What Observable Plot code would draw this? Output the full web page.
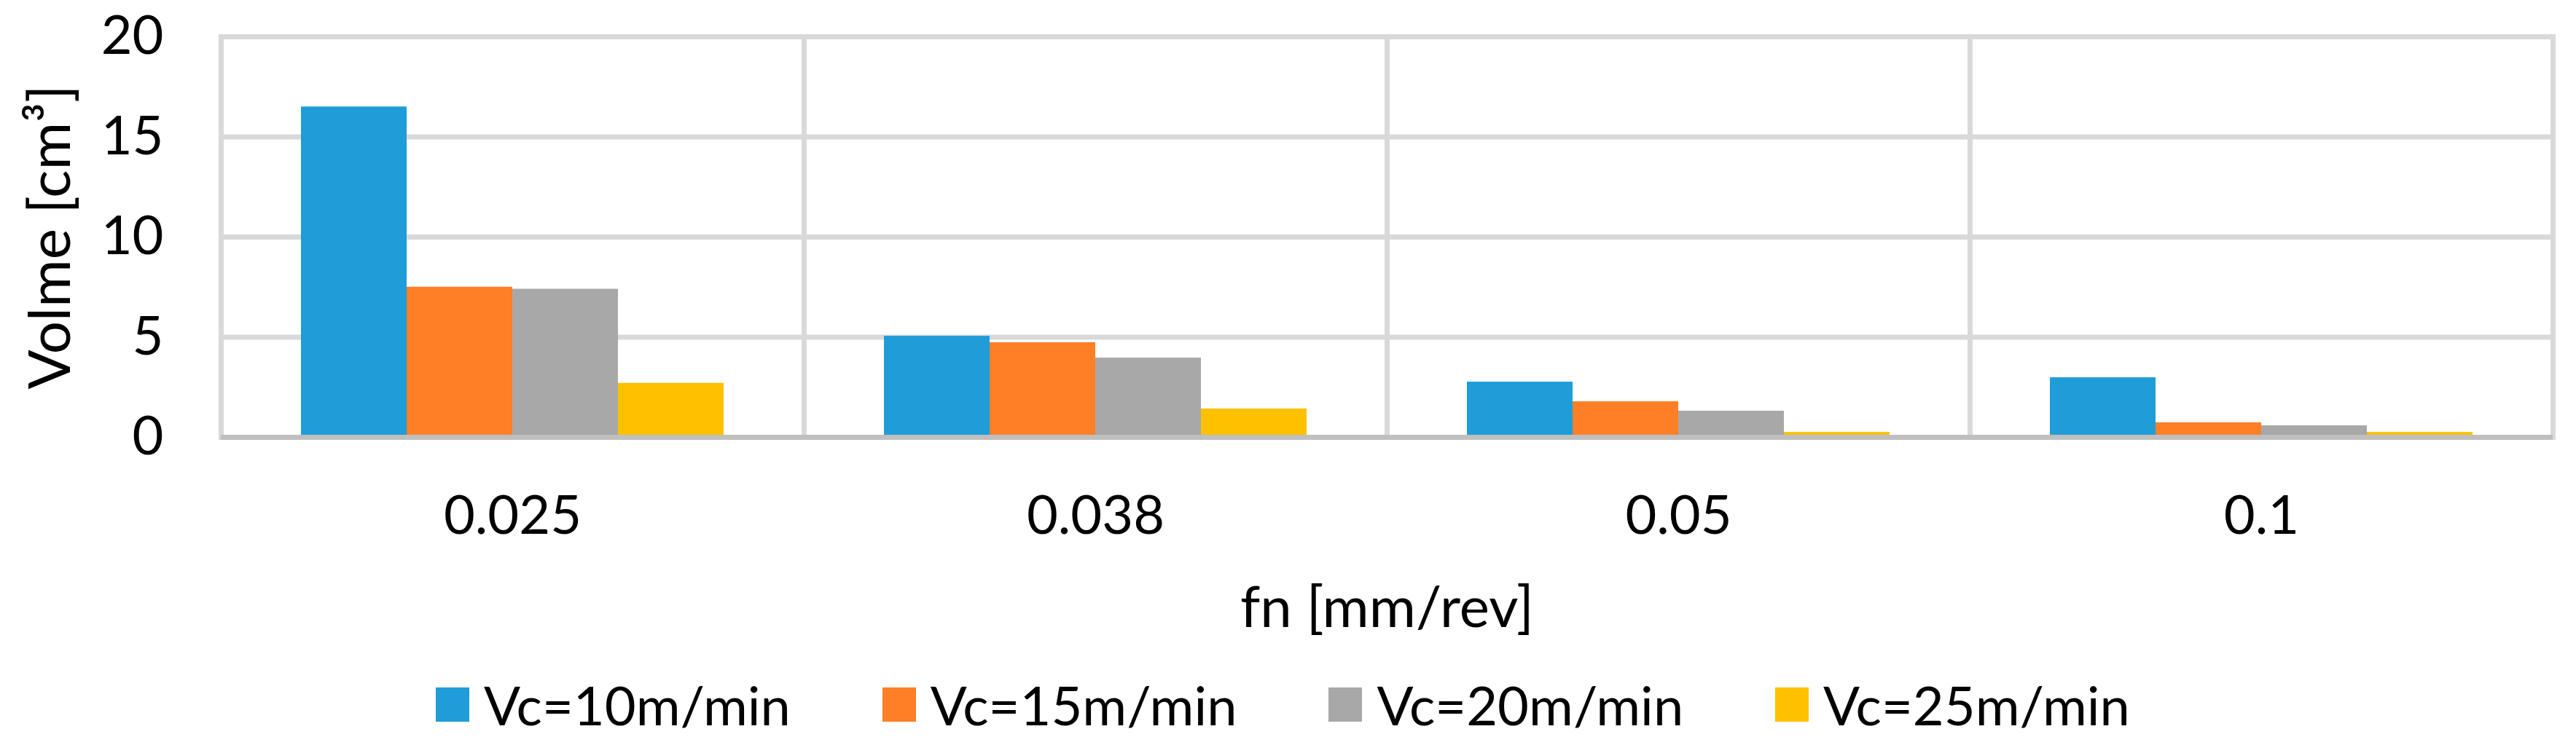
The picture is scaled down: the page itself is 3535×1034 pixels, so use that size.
<!DOCTYPE html>
<html>
<head>
<meta charset="utf-8">
<script src="https://cdn.jsdelivr.net/npm/d3@7"></script>
<script src="https://cdn.jsdelivr.net/npm/@observablehq/plot@0.6"></script>
<style>
  html, body { margin: 0; padding: 0; background: #fff; overflow: hidden; }
  #chart { width: 3535px; height: 1034px; }
  .lg-swatches { font-family: Lato, sans-serif !important; font-size: 74px !important; color: #000;
    margin: 0 !important; padding-left: 598px !important; height: 134px !important; min-height: 0 !important;
    display: flex !important; align-items: center !important; flex-wrap: nowrap !important; }
  .lg-swatches .lg-swatch { width: 612.7px !important; margin: 0 !important; flex: none !important;
    display: inline-flex !important; align-items: center !important; white-space: nowrap; }
  .lg-swatches .lg-swatch > svg { margin-right: 20px !important; }
</style>
</head>
<body>
<div id="chart"></div>
<script>
const feeds = ["0.025", "0.038", "0.05", "0.1"];
const series = ["Vc=10m/min", "Vc=15m/min", "Vc=20m/min", "Vc=25m/min"];
const vc10 = [16.5, 5.05, 2.76, 2.98];
const vc15 = [7.5, 4.73, 1.78, 0.73];
const vc20 = [7.4, 3.96, 1.31, 0.58];
const vc25 = [2.7, 1.42, 0.25, 0.25];
const colors = ["#1E9DD8", "#FF7F27", "#A8A8A8", "#FFC000"];
const yTicks = [0, 5, 10, 15, 20];
const gridTicks = [5, 10, 15, 20];
const yTitle = "Volme [cm³]";
const xTitle = "fn [mm/rev]";

const seriesValues = [vc10, vc15, vc20, vc25];
const data = feeds.flatMap((f, i) => series.map((s, j) => ({feed: f, series: s, value: seriesValues[j][i]})));

const plot = Plot.plot({
  width: 3535,
  height: 900,
  marginTop: 50,
  marginBottom: 300,
  marginLeft: 302,
  marginRight: 31,
  style: {fontFamily: "Lato, sans-serif", fontSize: "74px", color: "#000", background: "#fff"},
  fx: {domain: feeds, padding: 0, label: xTitle},
  x: {domain: series, paddingInner: 0, paddingOuter: 0.75, axis: null},
  y: {domain: [0, 20], label: yTitle},
  color: {domain: series, range: colors},
  marks: [
    Plot.gridY({ticks: gridTicks, stroke: "#D9D9D9", strokeOpacity: 1, strokeWidth: 7}),
    Plot.frame({stroke: "#D9D9D9", strokeWidth: 7}),
    Plot.barY(data, {fx: "feed", x: "series", y: "value", fill: "series"}),
    Plot.ruleY([0], {stroke: "#BFBFBF", strokeWidth: 7}),
    Plot.axisY({anchor: "left", ticks: yTicks, tickSize: 0, tickPadding: 79, label: null}),
    Plot.axisY({anchor: "left", ticks: [], tickSize: 0, fontSize: 80,
      label: yTitle, labelAnchor: "center", labelOffset: 264, labelArrow: "none"}),
    Plot.axisFx({anchor: "bottom", tickSize: 0, tickPadding: 80, label: null}),
    Plot.axisFx({anchor: "bottom", ticks: [], tickSize: 0, fontSize: 78,
      label: xTitle, labelAnchor: "center", labelOffset: 260, labelArrow: "none"})
  ]
});

const legend = plot.legend("color", {className: "lg", swatchWidth: 46, swatchHeight: 47});
const root = document.getElementById("chart");
root.appendChild(plot);
root.appendChild(legend);
</script>
</body>
</html>
